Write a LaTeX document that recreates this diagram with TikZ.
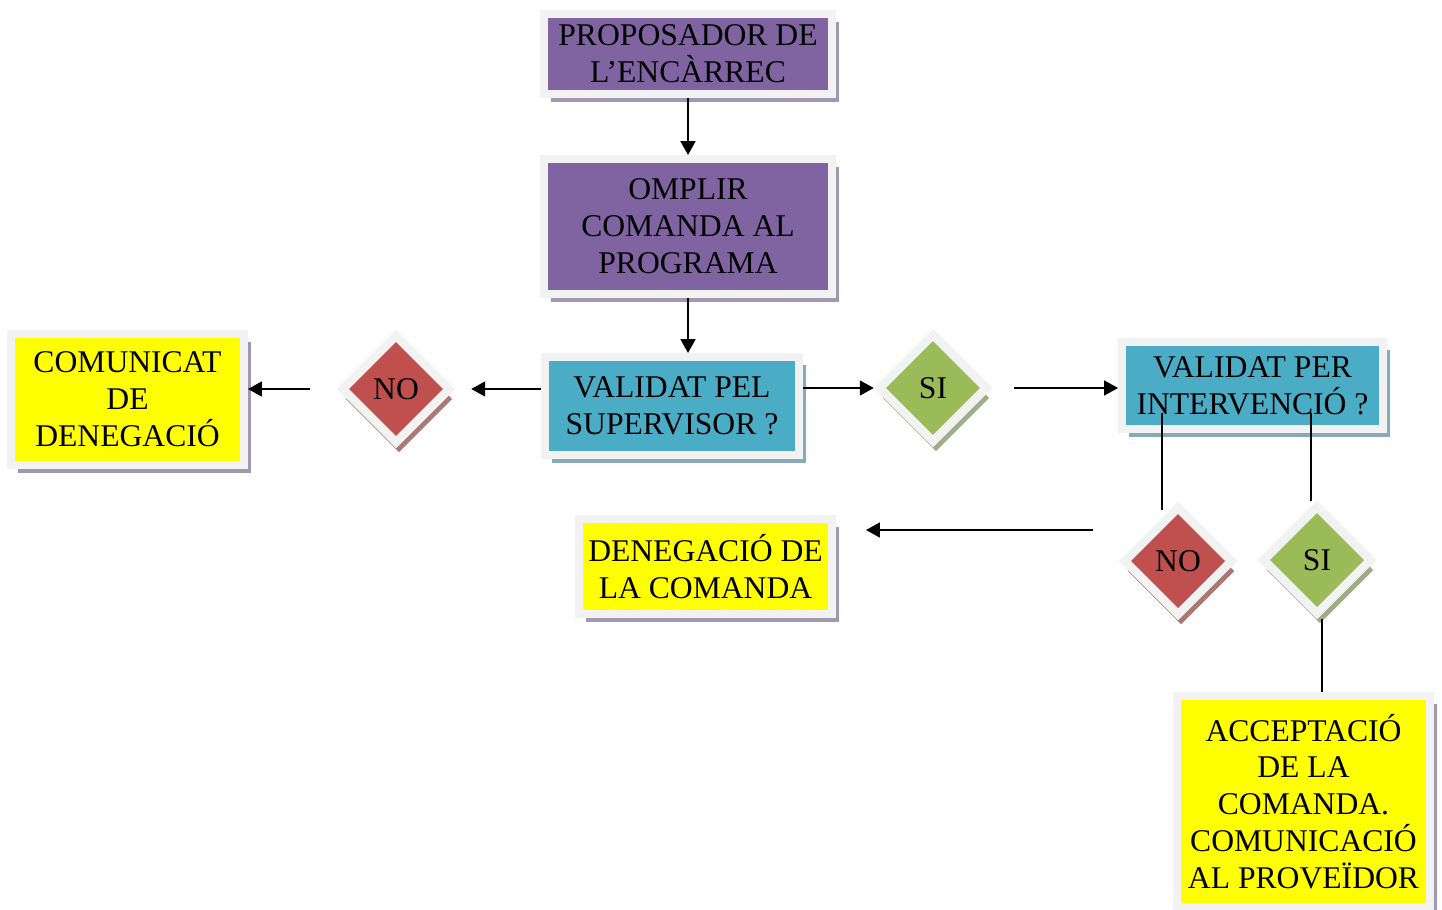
\documentclass[tikz,border=0pt]{standalone}
\usepackage{fontspec}
\setmainfont{Liberation Serif}
\usetikzlibrary{arrows.meta,shapes.geometric,shadows}
\definecolor{framegrey}{gray}{0.95}
\definecolor{procpurple}{RGB}{128,100,162}
\definecolor{askblue}{RGB}{75,172,198}
\definecolor{nored}{RGB}{192,80,77}
\definecolor{sigreen}{RGB}{155,187,89}
\definecolor{endyellow}{RGB}{255,255,0}
\definecolor{shadegrey}{RGB}{160,152,178}
\definecolor{shadeblue}{RGB}{135,170,185}
\definecolor{shadered}{RGB}{170,120,118}
\definecolor{shadegreen}{RGB}{160,172,135}
\newcommand{\fcfont}{\fontsize{18}{21}\selectfont}
\tikzset{
  flowchart/.style={font=\fcfont, x=0.02cm, y=-0.02cm},
  % a box with the pale frame and the shadow under its right and bottom sides
  fcbox/.style={rectangle, draw=framegrey, line width=0.16cm, align=center,
                inner sep=0pt,
                drop shadow={shadow xshift=0.14cm, shadow yshift=-0.16cm,
                             fill=#1, opacity=1}},
  fcbox/.default=shadegrey,
  % a step of the process
  pbox/.style={fcbox, fill=procpurple},
  % a question
  qbox/.style={fcbox=shadeblue, fill=askblue},
  % an end of the process
  tbox/.style={fcbox, fill=endyellow},
  % an answer, in its framed diamond
  fcdia/.style={diamond, aspect=1, draw=framegrey, line width=0.17cm,
                inner sep=0pt, minimum width=2.2cm, minimum height=2.2cm,
                drop shadow={shadow xshift=0.06cm, shadow yshift=-0.2cm,
                             fill=#1, opacity=1}},
  nodia/.style={fcdia=shadered, fill=nored},
  sidia/.style={fcdia=shadegreen, fill=sigreen},
  % a connector with its head
  flow/.style={draw=black, line width=1pt,
               -{Triangle[length=0.28cm,width=0.3cm]}},
  % ditto, with no head
  link/.style={draw=black, line width=1pt},
}
\newcommand{\bx}[5]{\node[#4] (#1) at (#2,#3) {#5};}
\newcommand{\fl}[3][]{\draw[flow,#1] (#2) -- (#3);}
\newcommand{\lk}[3][]{\draw[link,#1] (#2) -- (#3);}

\begin{document}
\begin{tikzpicture}[flowchart]
  \useasboundingbox (0,0) rectangle (1442,909);
  % boxes
  \bx{prop}{688}{54}{pbox, minimum width=5.76cm, minimum height=1.6cm}{PROPOSADOR DE\\L’ENCÀRREC}
  \bx{ompl}{688}{226.5}{pbox, minimum width=5.76cm, minimum height=2.7cm}{OMPLIR\\COMANDA AL\\PROGRAMA}
  \bx{vsup}{672}{406}{qbox, minimum width=5.08cm, minimum height=1.96cm}{VALIDAT PEL\\SUPERVISOR ?}
  \bx{comu}{127.5}{399.5}{tbox, minimum width=4.66cm, minimum height=2.62cm}{COMUNICAT\\DE\\DENEGACIÓ}
  \bx{vint}{1252.5}{385.5}{qbox, minimum width=5.22cm, minimum height=1.74cm}{VALIDAT PER\\INTERVENCIÓ ?}
  \bx{deneg}{705.5}{566.5}{tbox, minimum width=5.06cm, minimum height=1.9cm}{DENEGACIÓ DE\\LA COMANDA}
  \bx{accept}{1303.5}{801.5}{tbox, minimum width=5.06cm, minimum height=4.22cm}{ACCEPTACIÓ\\DE LA\\COMANDA.\\COMUNICACIÓ\\AL PROVEÏDOR}
  % answers
  \bx{nol}{396}{389}{nodia}{NO}
  \bx{sil}{933}{388}{sidia}{SI}
  \bx{nor}{1178}{561}{nodia}{NO}
  \bx{sir}{1317}{560}{sidia}{SI}

  \fl{prop}{ompl}
  \fl{ompl.south}{ompl.south |- vsup.north}
  \fl[shorten >=0.32cm]{vsup.west |- nol}{nol}
  \fl[shorten <=0.54cm]{nol}{nol -| comu.east}
  \fl{vsup.east |- sil}{sil}
  \fl[shorten <=0.44cm]{sil}{sil -| vint.west}

  \coordinate (vnotop) at (1162,413);
  \coordinate (vsitop) at (1311,413);
  \coordinate (dntail) at (1093,530);
  \lk[shorten >=-0.16cm]{vnotop}{vnotop |- nor.north}
  \lk{vsitop}{vsitop |- sir.north}
  \lk{[xshift=0.1cm]sir.south}{[xshift=0.1cm]sir.south |- accept.north}
  \fl[shorten >=0.6cm]{dntail}{dntail -| deneg.east}
\end{tikzpicture}
\end{document}
